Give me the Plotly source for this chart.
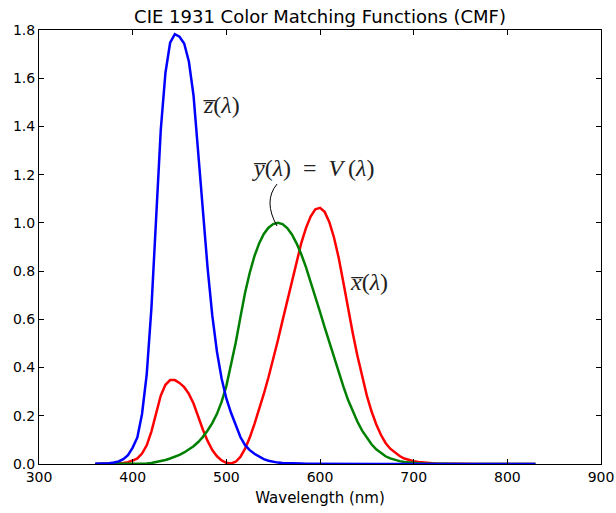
import plotly.graph_objects as go

# Wavelengths (nm), 5 nm steps
wavelength = list(range(360, 835, 5))

x_bar = [0.000130, 0.000232, 0.000415, 0.000742, 0.001368, 0.002236, 0.004243, 0.007650,
         0.014310, 0.023190, 0.043510, 0.077630, 0.134380, 0.214770, 0.283900, 0.328500,
         0.348280, 0.348060, 0.336200, 0.318700, 0.290800, 0.251100, 0.195360, 0.142100,
         0.095640, 0.057950, 0.032010, 0.014700, 0.004900, 0.002400, 0.009300, 0.029100,
         0.063270, 0.109600, 0.165500, 0.225750, 0.290400, 0.359700, 0.433450, 0.512050,
         0.594500, 0.678400, 0.762100, 0.842500, 0.916300, 0.978600, 1.026300, 1.056700,
         1.062200, 1.045600, 1.002600, 0.938400, 0.854450, 0.751400, 0.642400, 0.541900,
         0.447900, 0.360800, 0.283500, 0.218700, 0.164900, 0.121200, 0.087400, 0.063600,
         0.046770, 0.032900, 0.022700, 0.015840, 0.011359, 0.008111, 0.005790, 0.004109,
         0.002899, 0.002049, 0.001440, 0.001000, 0.000690, 0.000476, 0.000332, 0.000235,
         0.000166, 0.000117, 0.000083, 0.000059, 0.000042, 0.000029, 0.000021, 0.000015,
         0.000010, 0.000007, 0.000005, 0.000004, 0.000003, 0.000002, 0.000001]

y_bar = [0.000004, 0.000007, 0.000012, 0.000022, 0.000039, 0.000064, 0.000120, 0.000217,
         0.000396, 0.000640, 0.001210, 0.002180, 0.004000, 0.007300, 0.011600, 0.016840,
         0.023000, 0.029800, 0.038000, 0.048000, 0.060000, 0.073900, 0.090980, 0.112600,
         0.139020, 0.169300, 0.208020, 0.258600, 0.323000, 0.407300, 0.503000, 0.608200,
         0.710000, 0.793200, 0.862000, 0.914850, 0.954000, 0.980300, 0.994950, 1.000000,
         0.995000, 0.978600, 0.952000, 0.915400, 0.870000, 0.816300, 0.757000, 0.694900,
         0.631000, 0.566800, 0.503000, 0.441200, 0.381000, 0.321000, 0.265000, 0.217000,
         0.175000, 0.138200, 0.107000, 0.081600, 0.061000, 0.044580, 0.032000, 0.023200,
         0.017000, 0.011920, 0.008210, 0.005723, 0.004102, 0.002929, 0.002091, 0.001484,
         0.001047, 0.000740, 0.000520, 0.000361, 0.000249, 0.000172, 0.000120, 0.000085,
         0.000060, 0.000042, 0.000030, 0.000021, 0.000015, 0.000011, 0.000007, 0.000005,
         0.000004, 0.000003, 0.000002, 0.000001, 0.000001, 0.000001, 0.000000]

z_bar = [0.000606, 0.001086, 0.001946, 0.003486, 0.006450, 0.010550, 0.020050, 0.036210,
         0.067850, 0.110200, 0.207400, 0.371300, 0.645600, 1.039050, 1.385600, 1.622960,
         1.747060, 1.782600, 1.772110, 1.744100, 1.669200, 1.528100, 1.287640, 1.041900,
         0.812950, 0.616200, 0.465180, 0.353300, 0.272000, 0.212300, 0.158200, 0.111700,
         0.078250, 0.057250, 0.042160, 0.029840, 0.020300, 0.013400, 0.008750, 0.005750,
         0.003900, 0.002750, 0.002100, 0.001800, 0.001650, 0.001400, 0.001100, 0.001000,
         0.000800, 0.000600, 0.000340, 0.000240, 0.000190, 0.000100, 0.000050, 0.000030,
         0.000020, 0.000010, 0.0, 0.0, 0.0, 0.0, 0.0, 0.0,
         0.0, 0.0, 0.0, 0.0, 0.0, 0.0, 0.0, 0.0,
         0.0, 0.0, 0.0, 0.0, 0.0, 0.0, 0.0, 0.0,
         0.0, 0.0, 0.0, 0.0, 0.0, 0.0, 0.0, 0.0,
         0.0, 0.0, 0.0, 0.0, 0.0, 0.0, 0.0]

x_ticks = [300, 400, 500, 600, 700, 800, 900]
y_ticks = [0.0, 0.2, 0.4, 0.6, 0.8, 1.0, 1.2, 1.4, 1.6, 1.8]

title_text = "CIE 1931 Color Matching Functions (CMF)"
x_label = "Wavelength (nm)"
label_z = "<i>z\u0305</i>(<i>λ</i>)"
label_y = "<i>y\u0305</i>(<i>λ</i>)\u2002=\u2002<i>V</i>\u2009(<i>λ</i>)"
label_x = "<i>x\u0305</i>(<i>λ</i>)"

fig = go.Figure()
for vals, col in [(x_bar, "#ff0000"), (y_bar, "#008000"), (z_bar, "#0000ff")]:
    fig.add_trace(go.Scatter(x=wavelength, y=vals, mode="lines",
                             line=dict(color=col, width=2.5), showlegend=False,
                             hoverinfo="skip"))

serif = "Liberation Serif, DejaVu Serif, serif"
ann_font = dict(family=serif, size=24, color="#222222")
fig.add_annotation(x=473, y=1.49, text=label_z, showarrow=False,
                   xanchor="left", yanchor="middle", font=ann_font)
fig.add_annotation(x=525, y=1.226, text=label_y, showarrow=False,
                   xanchor="left", yanchor="middle", font=ann_font)
fig.add_annotation(x=630, y=0.755, text=label_x, showarrow=False,
                   xanchor="left", yanchor="middle", font=ann_font)

# curved connector from label to the y-bar curve
fig.add_shape(type="path", xref="x", yref="y",
              path="M 554.1,1.161 Q 539.1,1.091 554.1,0.987",
              line=dict(color="black", width=1))

axis_common = dict(showline=True, linecolor="black", linewidth=1, mirror="ticks",
                   ticks="inside", ticklen=5, tickwidth=1, tickcolor="black",
                   showgrid=False, zeroline=False, automargin=False,
                   tickfont=dict(family="DejaVu Sans", size=14, color="black"))

fig.update_xaxes(range=[300, 900], tickvals=x_ticks,
                 ticktext=[str(v) for v in x_ticks],
                 title=dict(text=x_label, font=dict(family="DejaVu Sans", size=15, color="black"),
                            standoff=8),
                 **axis_common)
fig.update_yaxes(range=[0, 1.8], tickvals=y_ticks,
                 ticktext=[f"{v:.1f}" for v in y_ticks], **axis_common)

fig.update_layout(
    width=616, height=513, autosize=False,
    margin=dict(l=39, r=15, t=30, b=49, autoexpand=False),
    paper_bgcolor="white", plot_bgcolor="white",
    title=dict(text=title_text, xref="paper", x=0.5, xanchor="center",
               yref="container", y=1 - 17 / 513, yanchor="middle", automargin=False,
               font=dict(family="DejaVu Sans", size=18, color="black")),
)

fig.write_html("out.html", config={"displayModeBar": False},
               post_script=("document.body.style.margin='0';document.body.style.padding='0';"
                            "document.body.style.overflow='hidden';"
                            "document.documentElement.style.overflow='hidden';"))
